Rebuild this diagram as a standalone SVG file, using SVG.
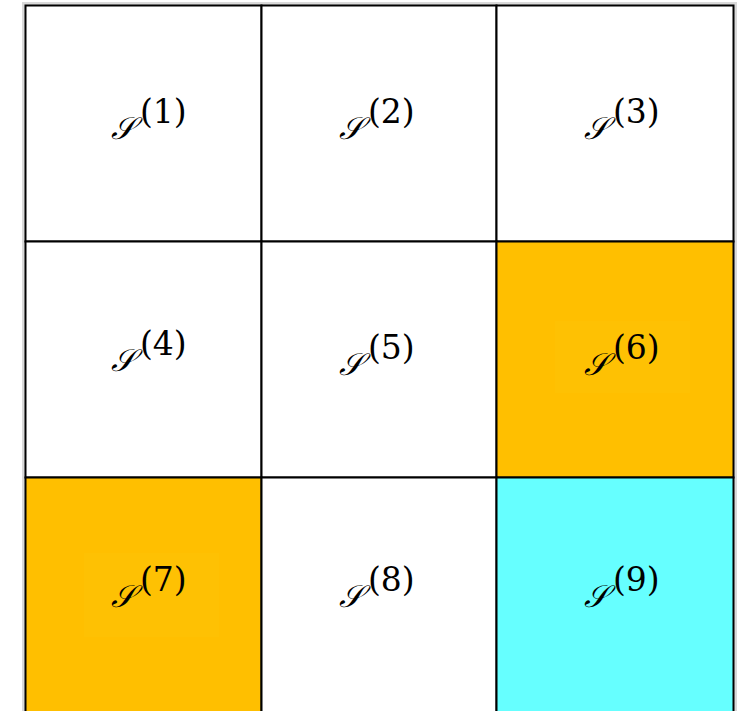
<svg xmlns="http://www.w3.org/2000/svg" width="739" height="711" viewBox="0 0 739 711">
<style>
.cell{stroke:#000;stroke-width:2}
.s{font-family:"DejaVu Serif","Liberation Serif",serif;font-size:31px;font-style:italic;fill:#000}
.sup{font-family:"DejaVu Serif","Liberation Serif",serif;font-size:33px;font-style:normal;fill:#000}
</style>
<rect x="0" y="0" width="739" height="711" fill="#fff"/>
<rect x="23.5" y="3.5" width="712" height="720" fill="none" stroke="#d9d9d9" stroke-width="3"/>
<g id="c1"><rect class="cell" x="25.5" y="5.5" width="236" height="236" fill="#fff"/><text x="111" y="139"><tspan class="s">𝒮</tspan><tspan class="sup" x="140" y="123">(1)</tspan></text></g>
<g id="c2"><rect class="cell" x="261.5" y="5.5" width="235" height="236" fill="#fff"/><text x="339" y="139"><tspan class="s">𝒮</tspan><tspan class="sup" x="368" y="123">(2)</tspan></text></g>
<g id="c3"><rect class="cell" x="496.5" y="5.5" width="237" height="236" fill="#fff"/><text x="584" y="139"><tspan class="s">𝒮</tspan><tspan class="sup" x="613" y="123">(3)</tspan></text></g>
<g id="c4"><rect class="cell" x="25.5" y="241.5" width="236" height="236" fill="#fff"/><text x="111" y="371"><tspan class="s">𝒮</tspan><tspan class="sup" x="140" y="355">(4)</tspan></text></g>
<g id="c5"><rect class="cell" x="261.5" y="241.5" width="235" height="236" fill="#fff"/><text x="339" y="375"><tspan class="s">𝒮</tspan><tspan class="sup" x="368" y="359">(5)</tspan></text></g>
<g id="c6"><rect class="cell" x="496.5" y="241.5" width="237" height="236" fill="#FFBF00"/><rect x="555" y="321" width="135" height="72" fill="#FEC103"/><text x="584" y="375"><tspan class="s">𝒮</tspan><tspan class="sup" x="613" y="359">(6)</tspan></text></g>
<g id="c7"><rect class="cell" x="25.5" y="477.5" width="236" height="250" fill="#FFBF00"/><rect x="84" y="553" width="135" height="84" fill="#FEC103"/><text x="111" y="607"><tspan class="s">𝒮</tspan><tspan class="sup" x="140" y="591">(7)</tspan></text></g>
<g id="c8"><rect class="cell" x="261.5" y="477.5" width="235" height="250" fill="#fff"/><text x="339" y="607"><tspan class="s">𝒮</tspan><tspan class="sup" x="368" y="591">(8)</tspan></text></g>
<g id="c9"><rect class="cell" x="496.5" y="477.5" width="237" height="250" fill="#66FFFF"/><text x="584" y="607"><tspan class="s">𝒮</tspan><tspan class="sup" x="613" y="591">(9)</tspan></text></g>
<g id="connectors"></g>
</svg>
